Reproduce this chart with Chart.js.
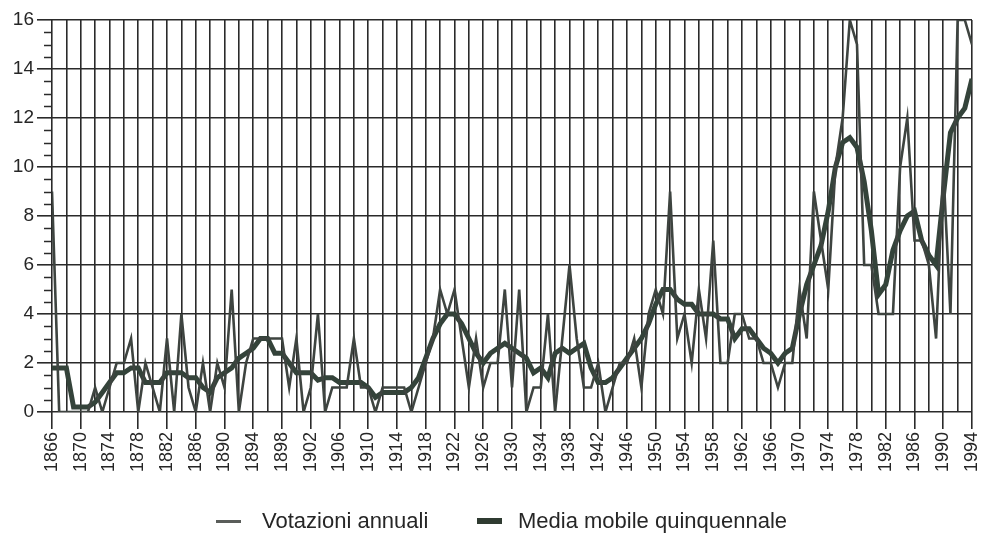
<!DOCTYPE html>
<html>
<head>
<meta charset="utf-8">
<script src="https://cdn.jsdelivr.net/npm/chart.js@4"></script>
<style>
  html, body { margin: 0; padding: 0; background: #fff; }
  #wrap { position: relative; width: 983px; height: 538px; }
  .legend { position: absolute; top: 506px; left: 0; width: 983px; height: 30px;
    font-family: "Liberation Sans", Arial, sans-serif; font-size: 22px; color: #262626; }
  .legend .item { position: absolute; top: 0; white-space: nowrap; line-height: 30px; }
  .legend .swatch { position: absolute; }
</style>
</head>
<body>
<div id="wrap">
  <canvas id="chart"></canvas>
  <div class="legend">
    <div class="swatch" style="left:216px; top:14px; width:25px; height:3px; background:#5a5d5a;"></div>
    <div class="item" style="left:262px;">Votazioni annuali</div>
    <div class="swatch" style="left:477px; top:12px; width:25px; height:6px; background:#2f3b31;"></div>
    <div class="item" style="left:518px;">Media mobile quinquennale</div>
  </div>
</div>
<script>
const firstYear = 1866;
const lastYear = 1994;

// votazioni per anno, 1866..1994
const annual = [
  9, 0, 0, 0, 0, 0, 1, 0, 1, 2,
  2, 3, 0, 2, 1, 0, 3, 0, 4, 1,
  0, 2, 0, 2, 1, 5, 0, 2, 3, 3,
  3, 3, 3, 1, 3, 0, 1, 4, 0, 1,
  1, 1, 3, 1, 1, 0, 1, 1, 1, 1,
  0, 1, 2, 3, 5, 4, 5, 3, 1, 3,
  1, 2, 2, 5, 1, 5, 0, 1, 1, 4,
  0, 3, 6, 3, 1, 1, 2, 0, 1, 2,
  2, 3, 1, 4, 5, 4, 9, 3, 4, 2,
  5, 3, 7, 2, 2, 4, 4, 3, 3, 2,
  2, 1, 2, 2, 5, 3, 9, 7, 5, 10,
  12, 16, 15, 6, 6, 4, 4, 4, 10, 12,
  7, 7, 6, 3, 10, 4, 16, 16, 15
];

// media mobile quinquennale, 1866..1994
const movingAvg = [
  1.8, 1.8, 1.8, 0.2, 0.2, 0.2, 0.4, 0.8, 1.2, 1.6,
  1.6, 1.8, 1.8, 1.2, 1.2, 1.2, 1.6, 1.6, 1.6, 1.4,
  1.4, 1.0, 0.8, 1.4, 1.6, 1.8, 2.2, 2.4, 2.6, 3.0,
  3.0, 2.4, 2.4, 2.0, 1.6, 1.6, 1.6, 1.3, 1.4, 1.4,
  1.2, 1.2, 1.2, 1.2, 1.0, 0.6, 0.8, 0.8, 0.8, 0.8,
  1.0, 1.4, 2.2, 3.0, 3.6, 4.0, 4.0, 3.6, 3.0, 2.4,
  2.0, 2.4, 2.6, 2.8, 2.6, 2.4, 2.2, 1.6, 1.8, 1.4,
  2.4, 2.6, 2.4, 2.6, 2.8, 1.8, 1.2, 1.2, 1.4, 1.8,
  2.2, 2.6, 3.0, 3.6, 4.4, 5.0, 5.0, 4.6, 4.4, 4.4,
  4.0, 4.0, 4.0, 3.8, 3.8, 3.0, 3.4, 3.4, 3.0, 2.6,
  2.4, 2.0, 2.4, 2.6, 4.0, 5.2, 6.0, 6.8, 8.2, 10.0,
  11.0, 11.2, 10.8, 9.4, 7.4, 4.8, 5.2, 6.6, 7.4, 8.0,
  8.2, 7.0, 6.4, 6.0, 8.8, 11.4, 12.0, 12.4, 13.6
];

const years = annual.map((_, i) => firstYear + i);
const yMax = 16;

const gridColor = "#2a2a2a";
const fontFamily = '"Liberation Sans", Arial, sans-serif';

function isLabelYear(v) {
  return Math.round(v - firstYear) % 4 === 0;
}

// small ticks every 0.5 on the y axis, between the labelled ones
const minorTicks = {
  id: "minorTicks",
  afterDraw(chart) {
    const y = chart.scales.y;
    const left = chart.chartArea.left;
    const ctx = chart.ctx;
    ctx.save();
    ctx.strokeStyle = gridColor;
    ctx.lineWidth = 1.5;
    for (let v = 0.5; v < yMax; v += 0.5) {
      if (v % 2 === 0) continue;
      const py = Math.round(y.getPixelForValue(v)) + 0.5;
      ctx.beginPath();
      ctx.moveTo(left - 8, py);
      ctx.lineTo(left, py);
      ctx.stroke();
    }
    ctx.restore();
  }
};

const ctx = document.getElementById("chart").getContext("2d");
new Chart(ctx, {
  type: "line",
  data: {
    datasets: [
      {
        label: "Votazioni annuali",
        data: years.map((yr, i) => ({ x: yr, y: annual[i] })),
        borderColor: "#3e4440",
        borderWidth: 2.6,
        pointRadius: 0,
        tension: 0,
        fill: false
      },
      {
        label: "Media mobile quinquennale",
        data: years.map((yr, i) => ({ x: yr, y: movingAvg[i] })),
        borderColor: "#34433a",
        borderWidth: 5,
        pointRadius: 0,
        tension: 0,
        fill: false
      }
    ]
  },
  options: {
    responsive: true,
    maintainAspectRatio: false,
    animation: false,
    layout: { padding: { left: 0, right: 11, top: 20, bottom: 0 } },
    plugins: {
      legend: { display: false },
      tooltip: { enabled: false }
    },
    scales: {
      x: {
        type: "linear",
        min: firstYear,
        max: lastYear,
        afterFit(scale) {
          scale.height = 126;
          scale.paddingLeft = 0;
          scale.paddingRight = 0;
        },
        border: { display: false },
        grid: {
          color: gridColor,
          lineWidth: 1.6,
          tickLength: 17,
          tickWidth: 1.6,
          tickColor: (c) => (c.tick && isLabelYear(c.tick.value) ? gridColor : "rgba(0,0,0,0)")
        },
        ticks: {
          stepSize: 2,
          autoSkip: false,
          minRotation: 90,
          maxRotation: 90,
          padding: 3,
          color: "#262626",
          font: { family: fontFamily, size: 18 },
          callback: (v) => (isLabelYear(v) ? String(Math.round(v)) : "")
        }
      },
      y: {
        min: 0,
        max: yMax,
        afterFit(scale) {
          scale.width = 52;
          scale.paddingTop = 0;
          scale.paddingBottom = 0;
        },
        border: { display: false },
        grid: {
          color: gridColor,
          lineWidth: 1.6,
          tickLength: 15,
          tickWidth: 1.6,
          tickColor: gridColor
        },
        ticks: {
          stepSize: 2,
          padding: 3,
          color: "#262626",
          font: { family: fontFamily, size: 19 }
        }
      }
    }
  },
  plugins: [minorTicks]
});
</script>
</body>
</html>
